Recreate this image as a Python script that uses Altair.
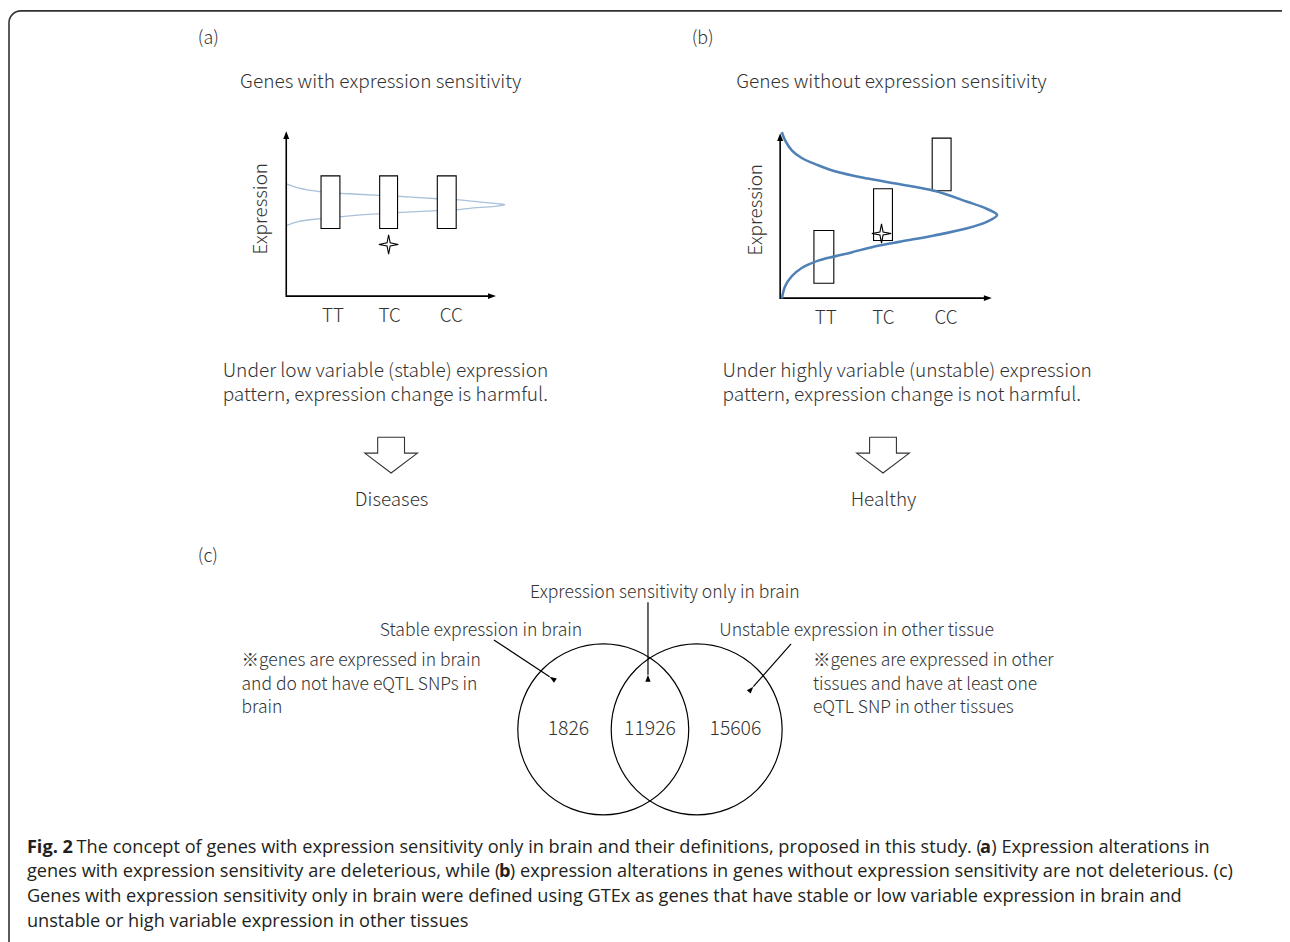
import math
import altair as alt
import pandas as pd

# ---------------- canvas (data coordinates = page pixels) ----------------
W, H = 1282, 934
X_DOM = [8, 1290]
Y_DOM = [8, 942]

# ---------------- text content ----------------
panel_tags = ["(a)", "(b)", "(c)"]
panel_tag_x = [199, 696, 199]
panel_tag_y = [36, 36, 558]

panel_titles = ["Genes with expression sensitivity", "Genes without expression sensitivity"]
panel_title_x = [383, 897]
panel_title_y = [80, 80]

genotypes = ["TT", "TC", "CC"]
geno_x_a = [335, 392, 454]
geno_x_b = [831, 889, 952]
geno_y_a = 315
geno_y_b = 317

ylab_text = "Expression"
ylab_x = [263, 761]
ylab_y = [207, 208]

under_lines_a = ["Under low variable (stable) expression", "pattern, expression change is harmful."]
under_lines_b = ["Under highly variable (unstable) expression", "pattern, expression change is not harmful."]
under_x = [224, 727]
under_y = [370, 395]

outcomes = ["Diseases", "Healthy"]
outcome_x = [394, 889]
outcome_y = [500, 500]

venn_labels = ["Expression sensitivity only in brain", "Stable expression in brain",
               "Unstable expression in other tissue"]
venn_label_x = [669, 484, 862]
venn_label_y = [594, 632, 632]

venn_counts = ["1826", "11926", "15606"]
venn_count_x = [572, 654, 740]
venn_count_y = [731, 731, 731]

note_left = ["※genes are expressed in brain", "and do not have eQTL SNPs in", "brain"]
note_right = ["※genes are expressed in other", "tissues and have at least one", "eQTL SNP in other tissues"]
note_x = [243, 818]
note_y = [662.5, 686, 709.5]

# caption
cap_line_y = [855, 880, 905, 930]
cap_x = 27
cap1_bold = "Fig. 2"
cap1_a = "The concept of genes with expression sensitivity only in brain and their definitions, proposed in this study. ("
cap1_b = "a"
cap1_c = ") Expression alterations in"
cap2_a = "genes with expression sensitivity are deleterious, while ("
cap2_b = "b"
cap2_c = ") expression alterations in genes without expression sensitivity are not deleterious. (c)"
cap3 = "Genes with expression sensitivity only in brain were defined using GTEx as genes that have stable or low variable expression in brain and"
cap4 = "unstable or high variable expression in other tissues"
cap_seg_x = {"fig": 27, "l1a": 77, "l1b": 986, "l1c": 997.5, "l2a": 27, "l2b": 502, "l2c": 513}

# ---------------- shapes ----------------
# axes (a) and (b)
axis_a = {"x": [288, 288, 496], "y": [132, 295, 295]}
axis_b = {"x": [785, 785, 995], "y": [134, 297, 297]}
axis_heads_x = [288, 499, 785, 998]
axis_heads_y = [129, 295, 131, 297]
axis_heads_ang = [0, 90, 0, 90]

# boxes
box_a_x1 = [323, 382, 440]
box_a_x2 = [342, 400, 459]
box_a_y1 = [174, 174, 174]
box_a_y2 = [227, 227, 227]
box_b_x1 = [819, 879, 938]
box_b_x2 = [839, 898, 957]
box_b_y1 = [229, 187, 136]
box_b_y2 = [282, 239, 189]

# distribution curves
curve_a_x = [288, 300, 323, 360, 400, 440, 459, 480, 500, 508, 500, 480, 459, 440, 400, 360, 323, 300, 288]
curve_a_y = [182, 186, 190, 192.5, 194.5, 197, 198, 200, 202, 203, 204.5, 206, 208, 209, 211, 213.5, 217, 220, 224]
curve_b_x = [786.7, 790, 796.7, 806.7, 823.3, 840, 873.3, 906.7, 940, 973.3, 993.3, 1003.3,
             993.3, 973.3, 940, 906.7, 880, 856.7, 840, 823.3, 806.7, 796.7, 790, 786.7]
curve_b_y = [130, 138.3, 148.3, 156, 163.3, 169.3, 176.7, 182.7, 189, 200, 207.3, 213.3,
             220, 226.7, 234, 240, 245, 251, 255, 259.3, 266.7, 275, 285, 297.3]

# stars
star_x = [391, 887]
star_y = [243, 232]

# block arrows
block_a_x = [380, 407, 407, 420, 393.5, 367, 380, 380]
block_b_x = [875, 902, 902, 915, 888.5, 862, 875, 875]
block_y = [437, 437, 453, 453, 473, 453, 453, 437]

# venn circles
circle_x = [607, 701]
circle_y = [731, 731]
circle_r = 86

# pointer arrows (start -> tip)
ptr_x1 = [652, 497, 796]
ptr_y1 = [603, 641, 645]
ptr_x2 = [652, 553, 758]
ptr_y2 = [676, 678, 688]

# frame
frame_x1, frame_x2, frame_y1, frame_y2 = 9, 1330, 8, 990

# ---------------- helpers ----------------
xs = alt.Scale(domain=X_DOM, nice=False, zero=False)
ys = alt.Scale(domain=Y_DOM, nice=False, zero=False, reverse=True)
XE = alt.X("x:Q", scale=xs, axis=None)
YE = alt.Y("y:Q", scale=ys, axis=None)

JP = "Noto Sans CJK JP"
CAP = "Open Sans"
TXT = "#333333"
CAPS = 18.3


def texts(items, align="center", size=17, font=JP, weight=300, color=TXT,
          angle=0, baseline="middle"):
    df = pd.DataFrame(items, columns=["t", "x", "y"])
    kw = dict(align=align, baseline=baseline, fontSize=size, font=font,
              fontWeight=weight, color=color)
    if angle:
        kw["angle"] = angle
    return alt.Chart(df).mark_text(**kw).encode(x=XE, y=YE, text="t:N")


layers = []

# frame
frame_df = pd.DataFrame({"x": [frame_x1], "x2": [frame_x2], "y": [frame_y1], "y2": [frame_y2]})
layers.append(alt.Chart(frame_df).mark_rect(fill=None, stroke="#333333", strokeWidth=1.6,
                                            cornerRadius=12).encode(
    x=XE, x2="x2:Q", y=YE, y2="y2:Q"))

# curve (a) behind the boxes
ca = pd.DataFrame({"x": curve_a_x, "y": curve_a_y, "o": range(len(curve_a_x))})
layers.append(alt.Chart(ca).mark_line(color="#a9c1da", strokeWidth=1.3,
                                      interpolate="catmull-rom").encode(
    x=XE, y=YE, order="o:Q"))

# axes
ax_rows = []
for k, ax in enumerate([axis_a, axis_b]):
    for i, (px, py) in enumerate(zip(ax["x"], ax["y"])):
        ax_rows.append({"id": k, "o": i, "x": px, "y": py})
layers.append(alt.Chart(pd.DataFrame(ax_rows)).mark_line(color="black", strokeWidth=1.6).encode(
    x=XE, y=YE, detail="id:N", order="o:Q"))

HEAD = "M0,0 L0.75,2 L-0.75,2 Z"
heads = pd.DataFrame({"x": axis_heads_x, "y": axis_heads_y, "a": axis_heads_ang})
layers.append(alt.Chart(heads).mark_point(shape=HEAD, size=64, filled=True, color="black",
                                          opacity=1, strokeWidth=0).encode(
    x=XE, y=YE, angle=alt.Angle("a:Q", scale=None)))

# boxes
boxes = pd.DataFrame({"x": box_a_x1 + box_b_x1, "x2": box_a_x2 + box_b_x2,
                      "y": box_a_y1 + box_b_y1, "y2": box_a_y2 + box_b_y2})
layers.append(alt.Chart(boxes).mark_rect(fill="white", stroke="black", strokeWidth=1.1).encode(
    x=XE, x2="x2:Q", y=YE, y2="y2:Q"))

# curve (b) on top
cb = pd.DataFrame({"x": curve_b_x, "y": curve_b_y, "o": range(len(curve_b_x))})
layers.append(alt.Chart(cb).mark_line(color="#4f80b6", strokeWidth=2.6,
                                      interpolate="catmull-rom").encode(
    x=XE, y=YE, order="o:Q"))

# stars
STAR = "M0,-1 L0.16,-0.16 L1,0 L0.16,0.16 L0,1 L-0.16,0.16 L-1,0 L-0.16,-0.16 Z"
stars = pd.DataFrame({"x": star_x, "y": star_y})
layers.append(alt.Chart(stars).mark_point(shape=STAR, size=380, filled=True, fill="white",
                                          stroke="black", strokeWidth=1.1, opacity=1).encode(
    x=XE, y=YE))

# block arrows
bl_rows = []
for k, bx in enumerate([block_a_x, block_b_x]):
    for i, (px, py) in enumerate(zip(bx, block_y)):
        bl_rows.append({"id": k, "o": i, "x": px, "y": py})
layers.append(alt.Chart(pd.DataFrame(bl_rows)).mark_line(color="#333333", strokeWidth=1.1).encode(
    x=XE, y=YE, detail="id:N", order="o:Q"))

# venn circles (Vega circle symbol: diameter = sqrt(size))
circ = pd.DataFrame({"x": circle_x, "y": circle_y})
layers.append(alt.Chart(circ).mark_point(shape="circle", size=(2 * circle_r) ** 2,
                                         filled=False, color="black", strokeWidth=1.2,
                                         opacity=1).encode(x=XE, y=YE))

# pointer arrows
ptr = pd.DataFrame({"x": ptr_x1, "y": ptr_y1, "x2": ptr_x2, "y2": ptr_y2})
layers.append(alt.Chart(ptr).mark_rule(color="black", strokeWidth=1.2).encode(
    x=XE, y=YE, x2="x2:Q", y2="y2:Q"))
ptr_ang = [math.degrees(math.atan2(-(bx - ax), (by - ay)))
           for ax, ay, bx, by in zip(ptr_x1, ptr_y1, ptr_x2, ptr_y2)]
ph = pd.DataFrame({"x": ptr_x2, "y": ptr_y2, "a": [(a + 360) % 360 for a in ptr_ang]})
layers.append(alt.Chart(ph).mark_point(shape=HEAD, size=49, filled=True, color="black",
                                       opacity=1, strokeWidth=0).encode(
    x=XE, y=YE, angle=alt.Angle("a:Q", scale=None)))

# ---------------- texts ----------------
layers.append(texts(list(zip(panel_tags, panel_tag_x, panel_tag_y)), align="left", size=18))
layers.append(texts(list(zip(panel_titles, panel_title_x, panel_title_y)), size=19.2))
layers.append(texts([(g, gx, geno_y_a) for g, gx in zip(genotypes, geno_x_a)] +
                    [(g, gx, geno_y_b) for g, gx in zip(genotypes, geno_x_b)], size=19))
layers.append(texts([(ylab_text, ylab_x[0], ylab_y[0]), (ylab_text, ylab_x[1], ylab_y[1])],
                    size=19, angle=270))
layers.append(texts([(t, under_x[0], yy) for t, yy in zip(under_lines_a, under_y)] +
                    [(t, under_x[1], yy) for t, yy in zip(under_lines_b, under_y)],
                    align="left", size=19.2))
layers.append(texts(list(zip(outcomes, outcome_x, outcome_y)), size=19))
layers.append(texts(list(zip(venn_labels, venn_label_x, venn_label_y)), size=17.7))
layers.append(texts(list(zip(venn_counts, venn_count_x, venn_count_y)), size=19.5))
layers.append(texts([(t, note_x[0], yy) for t, yy in zip(note_left, note_y)] +
                    [(t, note_x[1], yy) for t, yy in zip(note_right, note_y)],
                    align="left", size=17.6))

# caption
CAPC = "#231f20"
layers.append(texts([(cap1_bold, cap_seg_x["fig"], cap_line_y[0]),
                     (cap1_b, cap_seg_x["l1b"], cap_line_y[0]),
                     (cap2_b, cap_seg_x["l2b"], cap_line_y[1])], align="left", size=CAPS,
                    font=CAP, weight="bold", color=CAPC, baseline="alphabetic"))
layers.append(texts([(cap1_a, cap_seg_x["l1a"], cap_line_y[0]),
                     (cap1_c, cap_seg_x["l1c"], cap_line_y[0]),
                     (cap2_a, cap_seg_x["l2a"], cap_line_y[1]),
                     (cap2_c, cap_seg_x["l2c"], cap_line_y[1]),
                     (cap3, cap_x, cap_line_y[2]),
                     (cap4, cap_x, cap_line_y[3])], align="left", size=CAPS,
                    font=CAP, weight="normal", color=CAPC, baseline="alphabetic"))

chart = alt.layer(*layers).properties(
    width=W, height=H, padding=0, autosize=alt.AutoSizeParams(type="none")
).configure_view(stroke=None)

chart.save("out.html", embed_options={"renderer": "svg", "actions": False})
